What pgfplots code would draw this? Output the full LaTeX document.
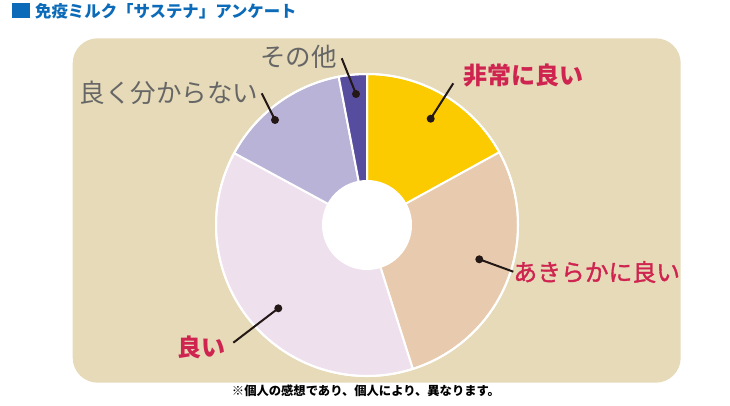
\documentclass[border=0pt]{standalone}
\usepackage{pgfplots}
\pgfplotsset{compat=1.18}
\usepackage{pgfplotstable}
\usepackage{fontspec}
\setmainfont{Noto Sans CJK JP}
\newfontfamily\jpmed[FakeBold=1.4]{Noto Sans CJK JP}

\definecolor{bgBeige}{HTML}{E6DAB8}
\definecolor{pie0}{HTML}{FBCB00}
\definecolor{pie1}{HTML}{E8CBAE}
\definecolor{pie2}{HTML}{EFE0EE}
\definecolor{pie3}{HTML}{BAB3D8}
\definecolor{pie4}{HTML}{574D9F}
\definecolor{labRed}{HTML}{CF2350}
\definecolor{labGray}{HTML}{666666}
\definecolor{titleBlue}{HTML}{0B6BB8}
\definecolor{leader}{HTML}{231815}

% answer shares in percent, clockwise from 12 o'clock
\pgfplotstableread{
pct
17.0
28.1
37.8
14.1
3.0
}\answers

\begin{document}
\begin{tikzpicture}
% start / end angle of every slice
\def\acc{90}
\foreach \i in {0,...,4}{
    \pgfplotstablegetelem{\i}{pct}\of\answers
    \pgfmathsetmacro\nxt{\acc-3.6*\pgfplotsretval}
    \expandafter\xdef\csname sa\i\endcsname{\acc}
    \expandafter\xdef\csname ea\i\endcsname{\nxt}
    \xdef\acc{\nxt}
}
\begin{axis}[
    hide axis,
    scale only axis,
    width=730bp, height=405bp,
    xmin=0, xmax=730,
    ymin=0, ymax=405,
    clip=false,
]
    \path (axis cs:0,0) rectangle (axis cs:730,405);

    % panel
    \fill[bgBeige, rounded corners=25bp] (axis cs:72.7,22.3) rectangle (axis cs:680.7,366.7);

    % slices
    \pgfplotsinvokeforeach{0,...,4}{
        \edef\temp{\noexpand\filldraw[fill=pie#1, draw=white, line width=2bp, line join=round]
            (axis cs:367,180) -- ++(\csname sa#1\endcsname:151bp)
            arc[start angle=\csname sa#1\endcsname, end angle=\csname ea#1\endcsname, radius=151bp] -- cycle;}
        \temp
    }
    \draw[white, line width=2bp] (axis cs:367,180) circle[radius=151bp];
    \fill[white] (axis cs:367,180) circle[radius=45bp];

    % leader lines
    \draw[leader, line width=2bp] (axis cs:430.7,286.3) -- (axis cs:453.3,321.7);
    \fill[leader] (axis cs:430.7,286.3) circle[radius=4bp];
    \draw[leader, line width=2bp] (axis cs:479.3,145.7) -- (axis cs:513.3,133.3);
    \fill[leader] (axis cs:479.3,145.7) circle[radius=4bp];
    \draw[leader, line width=2bp] (axis cs:278.3,96.7) -- (axis cs:233.3,62.3);
    \fill[leader] (axis cs:278.3,96.7) circle[radius=4bp];
    \draw[leader, line width=2bp] (axis cs:275,285) -- (axis cs:261.7,311.7);
    \fill[leader] (axis cs:275,285) circle[radius=4bp];
    \draw[leader, line width=2bp] (axis cs:356,311) -- (axis cs:341.7,346.7);
    \fill[leader] (axis cs:356,311) circle[radius=4bp];

    % labels
    \node[inner sep=0, text=labRed, font=\fontsize{24bp}{28bp}\selectfont\bfseries] at (axis cs:523,329.5) {非常に良い};
    \node[inner sep=0, text=labRed, font=\fontsize{23.8bp}{28bp}\selectfont\jpmed] at (axis cs:596.7,133) {あきらかに良い};
    \node[inner sep=0, text=labRed, font=\fontsize{24bp}{28bp}\selectfont\bfseries] at (axis cs:201,57.5) {良い};
    \node[inner sep=0, text=labGray, font=\fontsize{25.5bp}{30bp}\selectfont] at (axis cs:169,312.5) {良く分からない};
    \node[inner sep=0, text=labGray, font=\fontsize{25.5bp}{30bp}\selectfont] at (axis cs:298.5,348) {その他};

    % title and note
    \fill[titleBlue] (axis cs:11.7,386.7) rectangle (axis cs:30,401.7);
    \node[inner sep=0, anchor=west, text=titleBlue, font=\fontsize{16.4bp}{19bp}\selectfont\bfseries] at (axis cs:35,394) {免疫ミルク「サステナ」アンケート};
    \node[inner sep=0, font=\fontsize{12.3bp}{14bp}\selectfont\bfseries] at (axis cs:366,14) {※個人の感想であり、個人により、異なります。};
\end{axis}
\end{tikzpicture}
\end{document}
